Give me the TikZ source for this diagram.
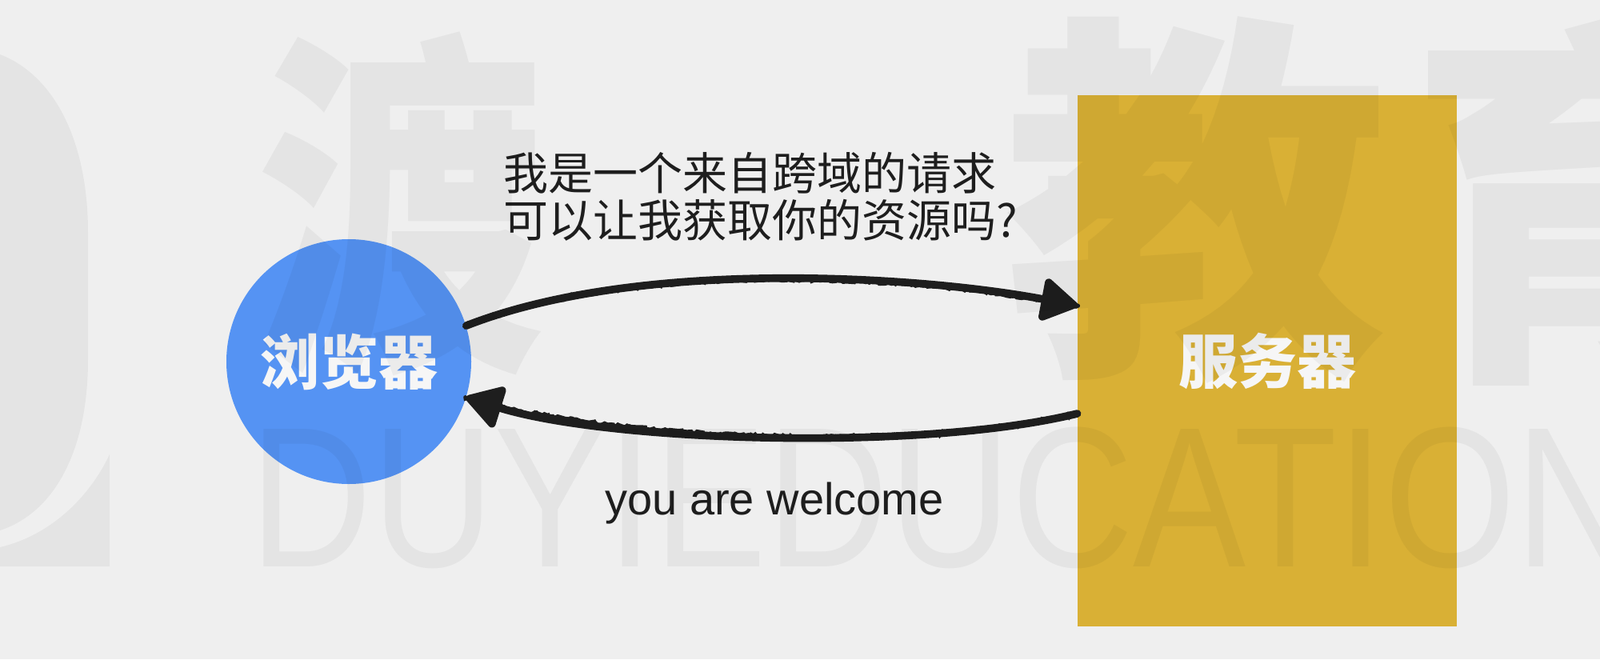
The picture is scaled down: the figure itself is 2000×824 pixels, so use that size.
\documentclass[tikz,border=0pt]{standalone}
\usepackage{fontspec}
\setmainfont{Liberation Sans}
\newfontfamily\cjk{Noto Sans CJK SC}
\usetikzlibrary{arrows.meta,decorations.pathmorphing,calc}
\definecolor{bgc}{HTML}{EFEFEF}
\definecolor{blueb}{HTML}{5593F3}
\definecolor{goldb}{HTML}{D9B035}
\definecolor{inkc}{HTML}{1E1E1E}
\definecolor{labc}{HTML}{F6F6F6}
\tikzset{
  browser/.style={circle,fill=blueb,minimum size=153pt,inner sep=0pt,text=labc,font=\cjk\bfseries\fontsize{37pt}{40pt}\selectfont},
  server/.style={rectangle,fill=goldb,minimum width=237pt,minimum height=332pt,inner sep=0pt,text=labc,font=\cjk\bfseries\fontsize{37pt}{40pt}\selectfont},
  msg/.style={text=inkc,inner sep=0pt,font=\cjk\fontsize{28pt}{29.5pt}\selectfont,align=left},
  reply/.style={text=inkc,inner sep=0pt,font=\fontsize{28pt}{30pt}\selectfont},
  rough/.style={draw=inkc,line width=4.8pt,line cap=round,
    -{Triangle[length=25pt,width=29pt,round]},
    postaction={draw=inkc,-,line width=2.4pt,decorate,
      decoration={random steps,segment length=2pt,amplitude=1.2pt}},
    postaction={draw=inkc,-,line width=2pt,decorate,
      decoration={random steps,segment length=2.6pt,amplitude=1.3pt}}},
  wmark/.style={inner sep=0pt,text=black,opacity=0.045},
  wfill/.style={fill=black,opacity=0.045},
}
\begin{document}
\begin{tikzpicture}[x=0.5pt,y=-0.5pt]
\useasboundingbox (0,0) rectangle (2000,824);
\fill[bgc] (0,0) rectangle (2000,824);
% nodes
\node[browser] (b) at (436,452) {浏览器};
\node[server] (s) at (1584,451) {服务器};
\coordinate (sin) at ($(s.west)+(0,-69)$);
\coordinate (sout) at ($(s.west)+(0,66)$);
% connectors
\draw[rough] (b.17) .. controls (800,322) and (1150,345) .. (sin);
\draw[rough] (sout) .. controls (1150,565) and (760,552) .. (b.-17);
% labels
\node[msg,anchor=west] (q) at (629,246) {我是一个来自跨域的请求\\可以让我获取你的资源吗?};
\node[reply] (r) at (968,629) {you are welcome};
% watermark
\fill[wfill] (0,68) .. controls (70,95) and (110,180) .. (110,290) -- (110,450)
  .. controls (110,560) and (70,640) .. (0,663) -- cycle;
\fill[wfill] (0,708) -- (137,708) -- (137,568) .. controls (110,625) and (60,670) .. (0,684) -- cycle;
\node[wmark,font=\cjk\bfseries\fontsize{225pt}{230pt}\selectfont,xscale=0.8] (w1) at (500,255) {渡};
\node[wmark,font=\cjk\bfseries\fontsize{240pt}{245pt}\selectfont] (w2) at (1495,250) {教};
\node[wmark,font=\cjk\bfseries\fontsize{240pt}{245pt}\selectfont] (w3) at (2000,250) {育};
\node[wmark,anchor=base west,font=\fontsize{125pt}{130pt}\selectfont,xscale=0.846] (w4) at (312,708) {DUYIEDUCATION};
\end{tikzpicture}
\end{document}
